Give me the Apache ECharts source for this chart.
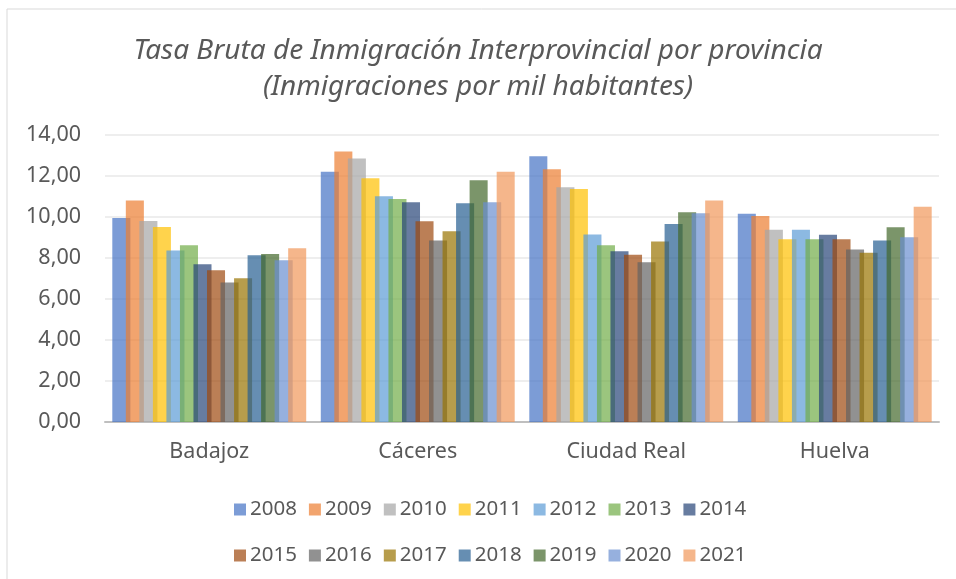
<!DOCTYPE html>
<html>
<head>
<meta charset="utf-8">
<script src="https://cdn.jsdelivr.net/npm/echarts@6/dist/echarts.min.js"></script>
<style>
  html, body { margin: 0; padding: 0; background: #fff; }
  #chart { width: 956px; height: 579px; }
</style>
</head>
<body>
<div id="chart"></div>
<script>
// provincias (categorías)
const provincias = ['Badajoz', 'Cáceres', 'Ciudad Real', 'Huelva'];

// tasa por año, en orden de provincias
const y2008 = [9.95, 12.21, 12.96, 10.16];
const y2009 = [10.80, 13.20, 12.33, 10.05];
const y2010 = [9.80, 12.85, 11.45, 9.38];
const y2011 = [9.51, 11.89, 11.37, 8.91];
const y2012 = [8.37, 11.01, 9.15, 9.38];
const y2013 = [8.62, 10.88, 8.62, 8.91];
const y2014 = [7.69, 10.72, 8.33, 9.14];
const y2015 = [7.40, 9.79, 8.16, 8.91];
const y2016 = [6.81, 8.85, 7.79, 8.42];
const y2017 = [7.01, 9.30, 8.80, 8.26];
const y2018 = [8.13, 10.67, 9.66, 8.85];
const y2019 = [8.20, 11.79, 10.23, 9.50];
const y2020 = [7.89, 10.72, 10.18, 9.01];
const y2021 = [8.47, 12.21, 10.81, 10.50];

const anios = ['2008', '2009', '2010', '2011', '2012', '2013', '2014',
               '2015', '2016', '2017', '2018', '2019', '2020', '2021'];
const valores = [y2008, y2009, y2010, y2011, y2012, y2013, y2014,
                 y2015, y2016, y2017, y2018, y2019, y2020, y2021];

// paleta de Excel
const colores = ['#4472C4', '#ED7D31', '#A5A5A5', '#FFC000', '#5B9BD5', '#70AD47', '#264478',
                 '#9E480E', '#636363', '#997300', '#255E91', '#43682B', '#698ED0', '#F1975A'];

const fuente = 'Noto Sans';
const gris = '#595959';

const chart = echarts.init(document.getElementById('chart'));

const legendBase = {
  icon: 'rect',
  itemWidth: 12,
  itemHeight: 12,
  itemGap: 12,
  textStyle: { fontFamily: fuente, fontSize: 20.5, color: gris, padding: [0, 0, 0, -1] }
};

chart.setOption({
  color: colores,
  animation: false,
  title: {
    text: 'Tasa Bruta de Inmigración Interprovincial por provincia\n(Inmigraciones por mil habitantes)',
    left: 'center',
    top: 28,
    textStyle: {
      fontFamily: fuente,
      fontStyle: 'italic',
      fontWeight: 'normal',
      fontSize: 28,
      lineHeight: 36,
      color: gris
    }
  },
  graphic: [
    { type: 'line', shape: { x1: 7, y1: 9, x2: 956, y2: 9 }, style: { stroke: '#D9D9D9', lineWidth: 1 } },
    { type: 'line', shape: { x1: 7, y1: 9, x2: 7, y2: 579 }, style: { stroke: '#D9D9D9', lineWidth: 1 } }
  ],
  legend: [
    Object.assign({ data: anios.slice(0, 7), left: 229, top: 494 }, legendBase),
    Object.assign({ data: anios.slice(7), left: 229, top: 540 }, legendBase)
  ],
  grid: { left: 105, right: 17, top: 135, bottom: 157 },
  xAxis: {
    type: 'category',
    data: provincias,
    axisTick: { show: false },
    axisLine: { lineStyle: { color: '#BFBFBF', width: 2 } },
    axisLabel: { fontFamily: fuente, fontSize: 21.5, color: gris, margin: 19 }
  },
  yAxis: {
    type: 'value',
    min: 0,
    max: 14,
    interval: 2,
    axisLabel: {
      fontFamily: fuente,
      fontSize: 21.5,
      color: gris,
      margin: 24,
      formatter: v => v.toFixed(2).replace('.', ',')
    },
    splitLine: { lineStyle: { color: '#E8E8E8', width: 1.5 } }
  },
  series: anios.map((a, i) => ({
    name: a,
    type: 'bar',
    data: valores[i],
    barGap: '-25%',
    barCategoryGap: '7%',
    itemStyle: { opacity: 0.7 }
  }))
});
</script>
</body>
</html>
